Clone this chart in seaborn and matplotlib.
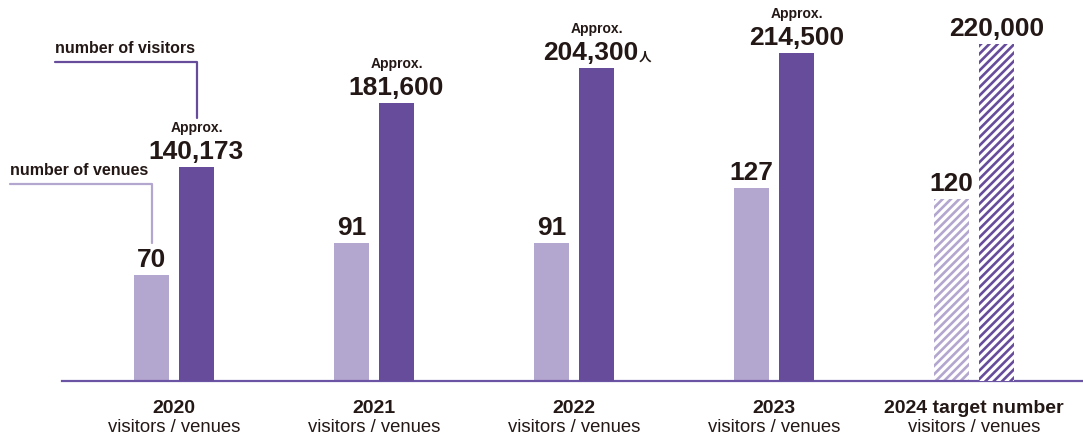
import numpy as np
import pandas as pd
import matplotlib
matplotlib.use("Agg")
import matplotlib.pyplot as plt
import seaborn as sns

# ---- data ----
years = ["2020", "2021", "2022", "2023", "2024 target number"]
venues = [70, 91, 91, 127, 120]
visitors = [140173, 181600, 204300, 214500, 220000]
venue_labels = ["70", "91", "91", "127", "120"]
visitor_labels = ["140,173", "181,600", "204,300", "214,500", "220,000"]
approx_flags = [True, True, True, True, False]
visitor_suffix = ["", "", "人", "", ""]
sub_label = "visitors / venues"

sns.set_theme(style="white")
plt.rcParams["font.family"] = ["Liberation Sans", "Noto Sans CJK JP", "DejaVu Sans"]
plt.rcParams["hatch.linewidth"] = 1.9

LIGHT = "#b3a6cf"
DARK = "#674c9c"
INK = "#231815"

W, H = 1083, 437
fig = plt.figure(figsize=(W / 100, H / 100), dpi=100)
ax = fig.add_axes([62 / W, (H - 381) / H, (W - 62) / W, 381 / H])
ax2 = ax.twinx()

df_v = pd.DataFrame({"year": years, "value": venues, "series": "venues"})
df_p = pd.DataFrame({"year": years, "value": visitors, "series": "visitors"})
hue_order = ["venues", "visitors"]
pal = {"venues": LIGHT, "visitors": DARK}

sns.barplot(data=df_v, x="year", y="value", hue="series", hue_order=hue_order,
            palette=pal, width=0.45, gap=0.22, errorbar=None, ax=ax, dodge=True,
            legend=False, saturation=1, linewidth=0)
sns.barplot(data=df_p, x="year", y="value", hue="series", hue_order=hue_order,
            palette=pal, width=0.45, gap=0.22, errorbar=None, ax=ax2, dodge=True,
            legend=False, saturation=1, linewidth=0)

ax.set_xlim(-0.56, 4.545)
ax.set_ylim(0, 381 / 1.52)
ax2.set_ylim(0, 381 / 0.00153)

for a in (ax, ax2):
    a.set_ylabel("")
    a.set_xlabel("")
    a.set_yticks([])
    for s in ("top", "right", "left", "bottom"):
        a.spines[s].set_visible(False)
ax.spines["bottom"].set_visible(True)
ax.spines["bottom"].set_color("#6b54a3")
ax.spines["bottom"].set_linewidth(1.6)
ax2.set_xticks([])
ax.tick_params(axis="x", length=0, pad=4)
ax.set_xticks(range(len(years)))
ax.set_xticklabels([""] * len(years))

# x labels
for i, y in enumerate(years):
    ax.annotate(y, xy=(i, 0), xycoords=("data", "axes fraction"), xytext=(0, -32),
                textcoords="offset pixels", ha="center", va="baseline",
                fontsize=14, fontweight="bold", color=INK)
    ax.annotate(sub_label, xy=(i, 0), xycoords=("data", "axes fraction"), xytext=(0, -51),
                textcoords="offset pixels", ha="center", va="baseline",
                fontsize=13.3, color=INK)

# hatch the target bars
def bars_of(a):
    return [p for p in a.patches if np.isfinite(p.get_height()) and p.get_height() > 0]

for a, col in ((ax, LIGHT), (ax2, DARK)):
    for p in bars_of(a):
        cx = p.get_x() + p.get_width() / 2
        if cx > 3.5:
            p.set_facecolor("white")
            p.set_edgecolor(col)
            p.set_hatch("////")
            p.set_linewidth(0)

# value labels
venue_bars = sorted(bars_of(ax), key=lambda p: p.get_x())
visitor_bars = sorted(bars_of(ax2), key=lambda p: p.get_x())

NUM = 19
for p, lab in zip(venue_bars, venue_labels):
    cx = p.get_x() + p.get_width() / 2
    ax.annotate(lab, xy=(cx, p.get_height()), xytext=(0, 8), textcoords="offset pixels",
                ha="center", va="baseline", fontsize=NUM, fontweight="bold", color=INK)

for p, lab, ap, suf in zip(visitor_bars, visitor_labels, approx_flags, visitor_suffix):
    cx = p.get_x() + p.get_width() / 2
    dx = -6 if suf else 0
    t = ax2.annotate(lab, xy=(cx, p.get_height()), xytext=(dx, 8), textcoords="offset pixels",
                     ha="center", va="baseline", fontsize=NUM, fontweight="bold", color=INK)
    if suf:
        ax2.annotate(suf, xy=(1, 0), xycoords=t, xytext=(1, 2), textcoords="offset pixels",
                     ha="left", va="bottom", fontsize=9, fontweight="bold", color=INK,
                     family=["Noto Sans CJK JP"])
    if ap:
        ax2.annotate("Approx.", xy=(cx, p.get_height()), xytext=(0, 35),
                     textcoords="offset pixels", ha="center", va="baseline",
                     fontsize=10, fontweight="bold", color=INK)

# leader lines and series names
vb0 = visitor_bars[0]
vx = vb0.get_x() + vb0.get_width() / 2
pb0 = venue_bars[0]
px = pb0.get_x() + pb0.get_width() / 2
tr = fig.transFigure.inverted()

def fig_xy(a, x, ypix):
    X, _ = a.transData.transform((x, 0))
    return tr.transform((X, H - ypix))

# visitors line
x1, y1 = fig_xy(ax2, vx, 62)
_, y2 = fig_xy(ax2, vx, 118)
xl = 55 / W
fig.add_artist(plt.Line2D([xl, x1, x1], [y1, y1, y2], color=DARK, lw=1.6))
fig.text(55 / W, 1 - 53 / H, "number of visitors", ha="left", va="baseline",
         fontsize=11.5, fontweight="bold", color=INK)

# venues line
x1, y1 = fig_xy(ax, px, 184)
_, y2 = fig_xy(ax, px, 243)
xl = 10 / W
fig.add_artist(plt.Line2D([xl, x1, x1], [y1, y1, y2], color=LIGHT, lw=1.6))
fig.text(10 / W, 1 - 175 / H, "number of venues", ha="left", va="baseline",
         fontsize=11.5, fontweight="bold", color=INK)

fig.savefig("out.png", dpi=100, facecolor="white")
